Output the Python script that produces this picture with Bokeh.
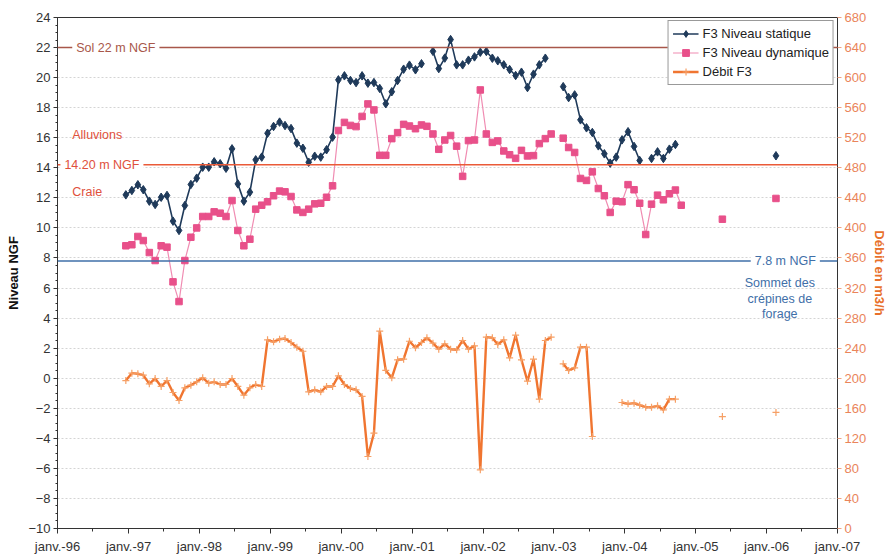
import numpy as np
import pandas as pd
from bokeh.plotting import figure
from bokeh.models import (Range1d, LinearAxis, FixedTicker, ColumnDataSource,
                          Span, Label, Legend, LegendItem)
from bokeh.embed import file_html
from bokeh.resources import INLINE

# ---------------- data (monthly readings, first one mid-December 1996) -------------
first_month = "1996-12-01"
n_months = 111

niveau_statique = [
    12.2, 12.49, 12.87, 12.54, 11.78, 11.56, 12.04, 12.16, 10.45, 9.83,
    11.49, 12.89, 13.31, 14.04, 14.04, 14.4, 14.27, 13.97, 15.26, 12.93,
    11.78, 12.38, 14.53, 14.71, 16.3, 16.75, 17.04, 16.81, 16.61, 15.64,
    15.3, 14.37, 14.77, 14.71, 15.2, 16.04, 19.85, 20.12, 19.81, 19.67,
    20.12, 19.63, 19.67, 19.28, 18.26, 19.06, 19.81, 20.56, 20.83, 20.52,
    20.92, None, 21.75, 20.6, 21.3, 22.53, 20.85, 20.85, 21.16, 21.38,
    21.69, 21.74, 21.29, 21.12, 20.85, 20.54, 20.14, 20.36, 19.34, 20.23,
    20.85, 21.29, None, None, 19.4, 18.67, 18.85, 17.19, 16.66, 16.35,
    15.46, 14.93, 14.31, 14.71, 15.86, 16.4, 15.42, 14.49, None, 14.62,
    15.06, 14.62, 15.24, 15.55, None, None, None, None, None, None,
    None, None, None, None, None, None, None, None, None, None,
    14.8,
]

niveau_dynamique = [
    8.81, 8.88, 9.43, 9.16, 8.36, 7.83, 8.81, 8.72, 6.41, 5.1,
    7.83, 9.38, 10.0, 10.76, 10.76, 11.07, 10.98, 10.76, 11.82, 9.83,
    8.81, 9.25, 11.25, 11.51, 11.74, 12.14, 12.45, 12.4, 12.09, 11.2,
    11.03, 11.25, 11.6, 11.64, 12.04, 12.8, 16.48, 17.02, 16.82, 16.74,
    17.42, 18.25, 17.85, 14.83, 14.83, 15.94, 16.34, 16.89, 16.78, 16.6,
    16.85, 16.76, 16.25, 15.23, 15.85, 16.15, 15.44, 13.43, 15.81, 15.85,
    19.18, 16.25, 15.69, 15.79, 15.12, 14.87, 14.63, 15.16, 14.79, 14.81,
    15.61, 15.94, 16.25, None, 15.97, 15.35, 15.02, 13.29, 13.16, 13.73,
    12.62, 12.14, 11.03, 11.78, 11.74, 12.88, 12.54, 11.64, 9.56, 11.58,
    12.18, 11.87, 12.27, 12.52, 11.51, None, None, None, None, None,
    None, 10.58, None, None, None, None, None, None, None, None,
    11.96,
]

debit_f3 = [
    196.9, 206.7, 205.9, 204.0, 192.5, 199.6, 189.0, 196.9, 181.0, 170.3,
    187.2, 190.7, 195.2, 200.5, 193.4, 195.2, 191.6, 191.6, 199.6, 189.0,
    177.4, 187.2, 191.6, 189.0, 251.1, 248.4, 251.9, 252.8, 247.5, 241.3,
    235.9, 181.9, 184.6, 181.9, 189.0, 189.0, 203.2, 191.6, 186.3, 184.6,
    175.7, 95.8, 126.8, 262.6, 210.3, 200.5, 224.5, 225.3, 249.2, 240.5,
    247.5, 253.8, 246.6, 238.6, 245.8, 238.6, 237.8, 250.2, 238.6, 243.1,
    78.1, 254.6, 253.8, 244.9, 251.1, 227.1, 257.2, 224.5, 196.0, 225.3,
    172.1, 250.2, 254.6, None, 219.2, 210.3, 213.8, 241.3, 241.3, 122.4,
    None, None, None, None, 167.7, 165.9, 166.8, 164.1, 161.4, 161.4,
    163.2, 157.9, 172.1, 172.1, None, None, None, None, None, None,
    None, 149.0, None, None, None, None, None, None, None, None,
    154.4,
]

years = list(range(1996, 2008))
year_labels = ["janv.-96", "janv.-97", "janv.-98", "janv.-99", "janv.-00",
               "janv.-01", "janv.-02", "janv.-03", "janv.-04", "janv.-05",
               "janv.-06", "janv.-07"]
left_ticks = list(range(-10, 25, 2))
right_ticks = list(range(0, 681, 40))

# ---------------- build ------------------------------------------------------------
def ms(s):
    return int(pd.Timestamp(s).value // 10**6)

dates = pd.date_range(first_month, periods=n_months, freq="MS") + pd.Timedelta(days=17)
src = ColumnDataSource(dict(
    x=dates,
    stat=np.array(niveau_statique, dtype=float),
    dyn=np.array(niveau_dynamique, dtype=float),
    deb=np.array(debit_f3, dtype=float),
))

FONT = "Liberation Sans"
BLUE = "#1f3a5a"
PINK_LINE = "#f08cb2"
PINK = "#e8508a"
ORANGE = "#f07530"
ORANGE_MK = "#f6a066"

major_x = [ms(f"{y}-01-01") for y in years]
minor_x = [ms(f"{y}-07-01") for y in years[:-1]]

p = figure(width=890, height=559, output_backend="svg", toolbar_location=None,
           x_range=Range1d(major_x[0], major_x[-1]), y_range=Range1d(-10, 24),
           min_border_left=57, min_border_right=50, min_border_top=17,
           min_border_bottom=31)
p.extra_y_ranges = {"debit": Range1d(0, 680)}
p.background_fill_color = "white"
p.border_fill_color = "white"
p.outline_line_color = "#333333"
p.outline_line_width = 1

p.xgrid.visible = False
p.ygrid.grid_line_color = "#d4d4d4"
p.ygrid.grid_line_dash = "2 2"

# axes
left = p.left[0]
left.ticker = FixedTicker(ticks=left_ticks, minor_ticks=[v / 2 for v in range(-20, 49)])
left.axis_label = "Niveau NGF"
bottom = p.below[0]
bottom.ticker = FixedTicker(ticks=major_x, minor_ticks=minor_x)
bottom.major_label_overrides = {t: lab for t, lab in zip(major_x, year_labels)}
right = LinearAxis(y_range_name="debit", axis_label="Débit en m3/h",
                   ticker=FixedTicker(ticks=right_ticks))
p.add_layout(right, "right")

for ax in (left, bottom, right):
    ax.axis_line_color = "#333333"
    ax.major_tick_line_color = "#333333"
    ax.minor_tick_line_color = "#333333"
    ax.major_tick_in = 0
    ax.minor_tick_in = 0
    ax.major_tick_out = 4
    ax.minor_tick_out = 2
    ax.major_label_text_font = FONT
    ax.major_label_text_font_size = "13px"
    ax.major_label_text_color = "#333333"
    ax.major_label_standoff = 3
    ax.axis_label_text_font = FONT
    ax.axis_label_text_font_size = "13px"
    ax.axis_label_text_font_style = "bold"
    ax.axis_label_standoff = 4
bottom.major_tick_out = 5
bottom.minor_tick_out = 3
bottom.major_label_standoff = 5
right.major_label_standoff = 3
right.axis_label_standoff = 3
left.axis_label_text_color = "#111111"
right.axis_label_text_color = "#e8702a"
right.major_label_text_color = "#ea845a"
right.major_tick_line_color = "#f0a080"
right.minor_tick_line_color = None

# reference lines
for level, col in ((22, "#a8574a"), (14.2, "#ea5a38"), (7.8, "#3f6fa8")):
    p.add_layout(Span(location=level, dimension="width", line_color=col, line_width=1.6))

def lab(x, y, text, color, align="left"):
    p.add_layout(Label(x=ms(x), y=y, text=text, text_font=FONT, text_font_size="12.5px",
                       text_color=color, text_baseline="middle", text_align=align,
                       background_fill_color="white", padding=4))

lab("1996-03-17", 22, "Sol 22 m NGF", "#a8574a")
lab("1996-01-16", 14.2, "14.20 m NGF", "#e0503c")
lab("2005-10-11", 7.8, "7.8 m NGF", "#3f6fa8")
p.add_layout(Label(x=ms("1996-03-17"), y=16.15, text="Alluvions", text_font=FONT,
                   text_font_size="12.5px", text_color="#e0503c", text_baseline="middle"))
p.add_layout(Label(x=ms("1996-03-17"), y=12.36, text="Craie", text_font=FONT,
                   text_font_size="12.5px", text_color="#e0503c", text_baseline="middle"))
for yv, t in ((6.32, "Sommet des"), (5.28, "crépines de"), (4.24, "forage")):
    p.add_layout(Label(x=ms("2006-03-10"), y=yv, text=t, text_font=FONT,
                       text_font_size="12.5px", text_color="#3f6fa8",
                       text_baseline="middle", text_align="center"))

# series
l1 = p.line("x", "stat", source=src, line_color=BLUE, line_width=1.6)
s1 = p.scatter("x", "stat", source=src, marker="diamond", size=8.5,
               fill_color=BLUE, line_color=BLUE)
l2 = p.line("x", "dyn", source=src, line_color=PINK_LINE, line_width=1.2)
s2 = p.scatter("x", "dyn", source=src, marker="square", size=6.5,
               fill_color=PINK, line_color=PINK)
l3 = p.line("x", "deb", source=src, y_range_name="debit", line_color=ORANGE, line_width=2.4)
s3 = p.scatter("x", "deb", source=src, y_range_name="debit", marker="cross", size=7,
               line_color=ORANGE_MK, line_width=1.2)

legend = Legend(items=[
    LegendItem(label="F3 Niveau statique", renderers=[l1, s1]),
    LegendItem(label="F3 Niveau dynamique", renderers=[l2, s2]),
    LegendItem(label="Débit F3", renderers=[l3, s3]),
], location="top_right", margin=3, padding=4, spacing=2,
   glyph_width=26, glyph_height=17, label_height=17, label_standoff=4,
   label_text_font=FONT, label_text_font_size="13px", label_text_color="#222222",
   border_line_color="#333333", border_line_width=1, background_fill_color="white",
   background_fill_alpha=1.0)
p.add_layout(legend)

open("out.html", "w").write(file_html(p, INLINE))
